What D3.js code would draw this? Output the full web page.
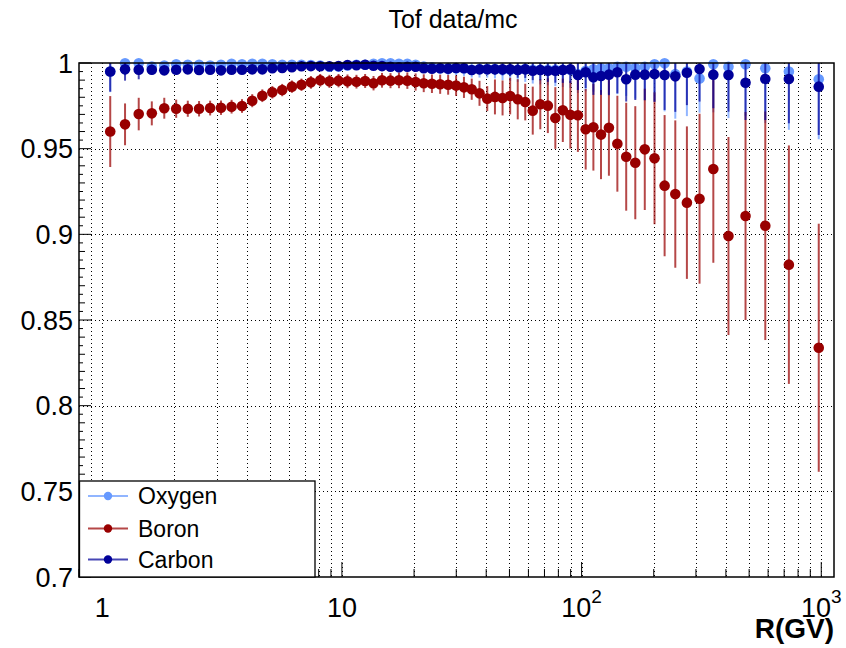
<!DOCTYPE html>
<html>
<head>
<meta charset="utf-8">
<script src="https://cdn.jsdelivr.net/npm/d3@7"></script>
<style>
  html, body { margin: 0; padding: 0; background: #fff; }
  svg { display: block; }
  text { font-family: "Liberation Sans", Arial, Helvetica, sans-serif; }
</style>
</head>
<body>
<svg id="chart" width="846" height="648"></svg>
<script>
// ---------------- data ----------------
const rigidity = [1.08, 1.245, 1.42, 1.61, 1.815, 2.035, 2.275, 2.535, 2.82, 3.13,
  3.465, 3.83, 4.225, 4.655, 5.125, 5.635, 6.185, 6.78, 7.425, 8.12,
  8.87, 9.68, 10.55, 11.5, 12.5, 13.55, 14.7, 15.95, 17.3, 18.75,
  20.3, 21.95, 23.75, 25.7, 27.75, 29.95, 32.3, 34.8, 37.5, 40.4,
  43.5, 46.8, 50.35, 54.15, 58.2, 62.55, 67.25, 72.3, 77.7, 83.5,
  89.75, 96.5, 104, 112, 120.5, 130, 141, 153.5, 167.5, 183.5,
  201.5, 222, 246, 275, 310.5, 354.5, 410, 483, 584, 732.5,
  976];

const oxygen = [0.995, 0.9998, 0.9998, 0.998, 0.9985, 0.9992, 0.999, 0.999, 0.9985, 0.999,
  0.9995, 0.9992, 0.9995, 0.9995, 0.9992, 0.999, 0.999, 0.999, 0.9988, 0.9985,
  0.9978, 0.998, 0.9985, 0.999, 0.999, 0.9995, 0.9998, 0.9998, 0.9995, 0.9995,
  0.999, 0.998, 0.9975, 0.997, 0.997, 0.997, 0.997, 0.996, 0.9965, 0.9965,
  0.9965, 0.996, 0.996, 0.996, 0.9965, 0.996, 0.996, 0.996, 0.996, 0.996,
  0.996, 0.9935, 0.9955, 0.9963, 0.9969, 0.9969, 0.9978, 0.9978, 0.9972, 0.9978,
  0.9992, 0.9998, 0.9935, 0.995, 0.991, 0.9992, 0.9978, 0.9992, 0.9969, 0.995,
  0.9905];
const oxygenErr = [0.012, 0.007, 0.006, 0.004, 0.003, 0.003, 0.003, 0.003, 0.003, 0.003,
  0.003, 0.003, 0.003, 0.003, 0.003, 0.003, 0.003, 0.003, 0.003, 0.003,
  0.003, 0.003, 0.003, 0.003, 0.003, 0.003, 0.003, 0.003, 0.003, 0.003,
  0.003, 0.003, 0.0035, 0.0035, 0.004, 0.004, 0.0045, 0.0045, 0.005, 0.005,
  0.0055, 0.006, 0.0065, 0.007, 0.0075, 0.008, 0.0085, 0.009, 0.0095, 0.01,
  0.0105, 0.011, 0.012, 0.013, 0.014, 0.015, 0.016, 0.017, 0.018, 0.02,
  0.022, 0.028, 0.026, 0.026, 0.02, 0.028, 0.03, 0.03, 0.032, 0.034,
  0.035];

const boron = [0.960, 0.9642, 0.9702, 0.9706, 0.9736, 0.9733, 0.9733, 0.9733, 0.9737, 0.9739,
  0.9745, 0.9749, 0.978, 0.9809, 0.9829, 0.9842, 0.9862, 0.9873, 0.9887, 0.9899,
  0.9893, 0.9897, 0.9893, 0.9891, 0.9895, 0.9882, 0.9899, 0.9897, 0.9899, 0.9897,
  0.9889, 0.9882, 0.9879, 0.9876, 0.9873, 0.9868, 0.9858, 0.9847, 0.9823, 0.9792,
  0.9802, 0.9796, 0.9807, 0.9788, 0.9772, 0.9722, 0.9759, 0.9751, 0.9679, 0.9724,
  0.9698, 0.9695, 0.9613, 0.9625, 0.9582, 0.9622, 0.9529, 0.9453, 0.9418, 0.9496,
  0.9444, 0.9284, 0.9235, 0.9185, 0.9208, 0.9381, 0.899, 0.9107, 0.905, 0.8823,
  0.8338];
const boronErr = [0.0207, 0.0122, 0.0095, 0.007, 0.0061, 0.0053, 0.0047, 0.0045, 0.0043, 0.0042,
  0.004, 0.004, 0.0038, 0.0037, 0.0036, 0.0036, 0.0036, 0.0036, 0.0037, 0.0037,
  0.0038, 0.0039, 0.004, 0.004, 0.0041, 0.0042, 0.0043, 0.0044, 0.0046, 0.0048,
  0.005, 0.0052, 0.0054, 0.0056, 0.0058, 0.006, 0.0062, 0.0062, 0.0073, 0.0073,
  0.0102, 0.0102, 0.0107, 0.0117, 0.0107, 0.014, 0.0146, 0.016, 0.018, 0.0185,
  0.0198, 0.0214, 0.0235, 0.0253, 0.026, 0.028, 0.028, 0.0315, 0.033, 0.0354,
  0.0385, 0.0412, 0.043, 0.0445, 0.0496, 0.0547, 0.0578, 0.0607, 0.0667, 0.0696,
  0.0724];

const carbon = [0.995, 0.9963, 0.9961, 0.9961, 0.9957, 0.9961, 0.9963, 0.9959, 0.9961, 0.9957,
  0.9961, 0.9961, 0.9963, 0.9963, 0.9969, 0.9971, 0.9975, 0.9981, 0.9982, 0.9981,
  0.9981, 0.9982, 0.9988, 0.9987, 0.999, 0.9984, 0.9982, 0.9978, 0.9975, 0.9978,
  0.9978, 0.9969, 0.9967, 0.9969, 0.9967, 0.9971, 0.9969, 0.9959, 0.9963, 0.9963,
  0.9963, 0.9963, 0.9963, 0.9959, 0.9963, 0.9955, 0.9959, 0.9955, 0.9955, 0.9959,
  0.9963, 0.993, 0.9946, 0.9917, 0.9924, 0.9932, 0.9946, 0.9905, 0.9932, 0.9932,
  0.9936, 0.993, 0.9922, 0.9943, 0.9965, 0.9932, 0.993, 0.9885, 0.9907, 0.9907,
  0.9862];
const carbonErr = [0.0117, 0.0066, 0.0056, 0.003, 0.0025, 0.0025, 0.0025, 0.0025, 0.0025, 0.0025,
  0.002, 0.002, 0.002, 0.002, 0.002, 0.002, 0.002, 0.002, 0.002, 0.002,
  0.002, 0.002, 0.002, 0.002, 0.002, 0.002, 0.002, 0.002, 0.002, 0.002,
  0.0025, 0.0025, 0.0025, 0.0025, 0.0025, 0.0025, 0.0025, 0.0025, 0.0025, 0.0025,
  0.003, 0.0035, 0.004, 0.0045, 0.005, 0.0055, 0.006, 0.0065, 0.007, 0.0075,
  0.008, 0.0088, 0.0093, 0.0103, 0.011, 0.012, 0.0123, 0.013, 0.0148, 0.0148,
  0.0162, 0.0204, 0.0207, 0.0189, 0.019, 0.0196, 0.0214, 0.0218, 0.024, 0.0259,
  0.0282];

const seriesNames = ["Oxygen", "Boron", "Carbon"];
const xMajorTicks = [1, 10, 100, 1000];
const xMajorText = ["1", "10", "10", "10"];
const xMajorSup = ["", "", "2", "3"];
const yMajorTicks = [0.7, 0.75, 0.8, 0.85, 0.9, 0.95, 1.0];
const yMajorText = ["0.7", "0.75", "0.8", "0.85", "0.9", "0.95", "1"];
const titleText = "Tof data/mc";
const xTitle = "R(GV)";

// ---------------- layout ----------------
const L = 79, R = 834, T = 63, B = 577;
const svg = d3.select("#chart");
svg.append("rect").attr("width", 846).attr("height", 648).attr("fill", "#fff");

const x = d3.scaleLog().domain([0.8, 1130]).range([L, R]);
const y = d3.scaleLinear().domain([0.7, 1.0]).range([B, T]);

const styles = {
  Oxygen: { marker: "#6699ff", line: "#6699ff" },
  Boron:  { marker: "#990000", line: "#990000" },
  Carbon: { marker: "#000099", line: "#000099" }
};

// grid
const gGrid = svg.append("g");
const xGridVals = x.ticks().filter(v => x(v) > L + 1 && x(v) < R - 1);
gGrid.selectAll("line.vx").data(xGridVals).enter().append("line")
  .attr("x1", d => Math.round(x(d)) + 0.5).attr("x2", d => Math.round(x(d)) + 0.5)
  .attr("y1", T).attr("y2", B)
  .attr("stroke", "#000").attr("stroke-width", 1).attr("stroke-dasharray", "1,3");
gGrid.selectAll("line.hy").data(yMajorTicks.filter(v => v > 0.7 && v < 1.0)).enter().append("line")
  .attr("y1", d => Math.round(y(d)) + 0.5).attr("y2", d => Math.round(y(d)) + 0.5)
  .attr("x1", L).attr("x2", R)
  .attr("stroke", "#000").attr("stroke-width", 1).attr("stroke-dasharray", "1,3");

// axes ticks (ROOT-style, inside frame)
const gAx = svg.append("g");
const xTickVals = x.ticks().filter(v => v >= 0.8 && v <= 1130);
gAx.selectAll("line.xt").data(xTickVals).enter().append("line")
  .attr("x1", d => x(d)).attr("x2", d => x(d))
  .attr("y1", B).attr("y2", d => B - (xMajorTicks.includes(d) ? 15 : 8))
  .attr("stroke", "#000").attr("stroke-width", 1);
const yTickVals = y.ticks(60);
gAx.selectAll("line.yt").data(yTickVals).enter().append("line")
  .attr("y1", d => y(d)).attr("y2", d => y(d))
  .attr("x1", L).attr("x2", d => {
    const r = Math.round(d * 1000);
    return L + (r % 50 === 0 ? 12 : (r % 10 === 0 ? 6 : 4));
  })
  .attr("stroke", "#000").attr("stroke-width", 1);

// series
function drawSeries(name, vals, errs) {
  const st = styles[name];
  const g = svg.append("g");
  const pts = rigidity.map((r, i) => ({ r, v: vals[i], e: errs[i] }));
  g.selectAll("line").data(pts).enter().append("line")
    .attr("x1", d => x(d.r)).attr("x2", d => x(d.r))
    .attr("y1", d => y(Math.min(1.0, d.v + d.e))).attr("y2", d => y(Math.max(0.7, d.v - d.e)))
    .attr("stroke", st.line).attr("stroke-opacity", 0.72).attr("stroke-width", 2);
  g.selectAll("circle").data(pts).enter().append("circle")
    .attr("cx", d => x(d.r)).attr("cy", d => y(d.v)).attr("r", 5.3)
    .attr("fill", st.marker);
}
drawSeries("Oxygen", oxygen, oxygenErr);
drawSeries("Boron", boron, boronErr);
drawSeries("Carbon", carbon, carbonErr);

// frame
svg.append("rect").attr("x", L).attr("y", T).attr("width", R - L).attr("height", B - T)
  .attr("fill", "none").attr("stroke", "#000").attr("stroke-width", 1.5);

// y labels
gAx.selectAll("text.yl").data(yMajorTicks).enter().append("text")
  .attr("x", 73).attr("y", d => y(d) + 9.5)
  .attr("text-anchor", "end").attr("font-size", 27).attr("fill", "#000")
  .text((d, i) => yMajorText[i]);

// x labels
xMajorTicks.forEach((v, i) => {
  const t = gAx.append("text").attr("y", 617).attr("font-size", 27).attr("fill", "#000")
    .attr("text-anchor", "middle").attr("x", x(v));
  t.append("tspan").text(xMajorText[i]);
  if (xMajorSup[i]) {
    t.append("tspan").attr("dy", -14).attr("font-size", 19).text(xMajorSup[i]);
  }
});

// axis title
svg.append("text").attr("x", 834).attr("y", 638).attr("text-anchor", "end")
  .attr("font-size", 28).attr("font-weight", "bold").attr("fill", "#000").text(xTitle);

// title
svg.append("text").attr("x", 453).attr("y", 28).attr("text-anchor", "middle")
  .attr("font-size", 25).attr("fill", "#000").text(titleText);

// legend
const lg = svg.append("g");
lg.append("rect").attr("x", 79.5).attr("y", 481).attr("width", 235.5).attr("height", 96)
  .attr("fill", "#fff").attr("stroke", "#000").attr("stroke-width", 1.3);
const legY = [496, 528.5, 559.5];
seriesNames.forEach((n, i) => {
  const st = styles[n];
  lg.append("line").attr("x1", 88).attr("x2", 128).attr("y1", legY[i]).attr("y2", legY[i])
    .attr("stroke", st.line).attr("stroke-opacity", 0.72).attr("stroke-width", 2);
  lg.append("circle").attr("cx", 108).attr("cy", legY[i]).attr("r", 4.2).attr("fill", st.marker);
  lg.append("text").attr("x", 138).attr("y", legY[i] + 8).attr("font-size", 23)
    .attr("fill", "#000").text(n);
});
</script>
</body>
</html>
